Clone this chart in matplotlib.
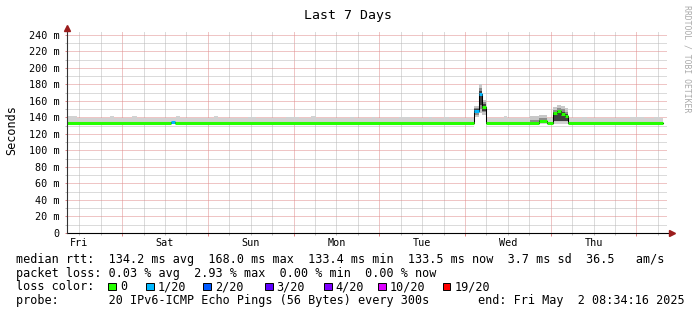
import matplotlib
matplotlib.use("Agg")
import matplotlib.pyplot as plt
from matplotlib.patches import Rectangle
import numpy as np

plt.rcParams['font.family'] = 'DejaVu Sans Mono'

# time axis: hours since Fri Apr 25 08:34:16 (graph covers 7 days)
start_offset = 8 + 34 / 60 + 16 / 3600

# median rtt segments (hours, ms) and loss index per segment
seg_start = [0.0, 29.2, 30.2, 114.0, 115.3, 116.2, 117.3, 132.1, 134.4, 136.1, 137.2, 138.4, 139.4, 140.3]
seg_end = [29.2, 30.2, 114.0, 115.3, 116.2, 117.3, 132.1, 134.4, 136.1, 137.2, 138.4, 139.4, 140.3, 167.0]
median_ms = [133.2, 134.7, 133.2, 147.7, 168.0, 152.5, 133.2, 136.0, 133.2, 145.5, 147.5, 144.0, 141.5, 133.2]
seg_loss = [0, 1, 0, 1, 1, 0, 0, 0, 0, 0, 0, 0, 0, 0]

# background smoke (light grey band above the median)
smoke_edges = [0, 2.8, 12.0, 13.2, 18.2, 19.6, 30.5, 31.6, 41.2, 42.3, 50.7, 53.0, 61.3, 65.0,
               68.3, 69.7, 79.2, 80.4, 85.4, 86.2, 93.0, 96.0, 101.4, 102.2, 105.6, 107.0,
               122.4, 123.2, 144.2, 145.6, 157.6, 161.6, 164.4, 166.0, 167.0]
smoke_top = [141.5, 139, 141.5, 139, 142, 139, 142, 139, 141.5, 139, 141, 139, 141, 139,
             142, 139, 140.5, 139, 140.5, 139, 141, 139, 141, 139, 140.5, 139,
             142, 139, 140.5, 139, 140.5, 139, 140.5, 139]
smoke_bottom = 132.0

# smoke around the disturbances (outer / mid / core bands)
ev_start = [114.0, 115.3, 116.2, 129.6, 132.1, 136.1, 137.2, 138.4, 139.4]
ev_end = [115.3, 116.2, 117.3, 132.1, 134.4, 137.2, 138.4, 139.4, 140.3]
ev_lo = [141, 145, 143, 134, 134, 134, 134, 134, 134]
ev_hi = [154, 180, 161, 142, 143, 152, 155, 154, 151]
ev_mid_lo = [143, 150, 146, 134, 134, 135, 135, 135, 135]
ev_mid_hi = [151, 176, 158, 137, 139, 149, 151, 150, 147]
ev_core_lo = [145, 155, 148, 134, 134, 135, 135, 135, 135]
ev_core_hi = [150, 172, 156, 134, 137, 146, 148, 146, 144]
white_from, white_to = 114.0, 117.3

day_names = ["Fri", "Sat", "Sun", "Mon", "Tue", "Wed", "Thu"]
ytick_vals = [0, 20, 40, 60, 80, 100, 120, 140, 160, 180, 200, 220, 240]
ytick_labels = ["0", "20 m", "40 m", "60 m", "80 m", "100 m", "120 m", "140 m",
                "160 m", "180 m", "200 m", "220 m", "240 m"]

loss_names = ["0", "1/20", "2/20", "3/20", "4/20", "10/20", "19/20"]
loss_colors = ["#26ff00", "#00b8ff", "#0059ff", "#5e00ff", "#7e00ff", "#dd00ff", "#ff0000"]
loss_box_x = [108.3, 146.0, 203.3, 265.0, 324.0, 378.3, 442.7]

W, H = 697, 315
fig = plt.figure(figsize=(W / 100, H / 100), dpi=100)
fig.patch.set_facecolor('white')
ax = fig.add_axes([67 / W, 1 - 233 / H, 600 / W, (233 - 30.6) / H])
ax.set_xlim(0, 168)
ax.set_ylim(0, 245)
for s in ax.spines.values():
    s.set_visible(False)

# grid
midnights = [24 * k - start_offset for k in range(1, 8)]
six_hours = [6 * k - start_offset for k in range(2, 30) if 0 < 6 * k - start_offset < 168]
ax.set_xticks(midnights)
ax.set_xticks(six_hours, minor=True)
ax.set_yticks(ytick_vals)
ax.set_yticklabels(ytick_labels)
ax.set_yticks(list(range(10, 241, 20)), minor=True)
ax.grid(which='major', color='#e08c8c', linestyle=(0, (1, 1)), linewidth=0.72, snap=True)
ax.grid(which='minor', color='#b8b8b8', linestyle=(0, (1, 1)), linewidth=0.72, snap=True)
ax.set_axisbelow(True)
ax.tick_params(axis='x', which='major', length=2.2, width=0.7, color='#e08080', labelbottom=False)
ax.tick_params(axis='x', which='minor', length=1.5, width=0.7, color='#bbbbbb')
ax.tick_params(axis='y', which='major', length=1.5, width=0.7, color='#e08080', pad=3.6, labelsize=7.3)
ax.tick_params(axis='y', which='minor', length=1.5, width=0.7, color='#bbbbbb')

# background smoke
sx = np.array(smoke_edges)
stop = np.array(smoke_top + [smoke_top[-1]])
ax.fill_between(sx, smoke_bottom, stop, step='post', color='#d2d2d2', lw=0, zorder=1)
ax.fill_between([white_from, white_to], 120, 141, color='white', lw=0, zorder=1.5)

# disturbance smoke
for i in range(len(ev_start)):
    xs = [ev_start[i], ev_end[i]]
    ax.fill_between(xs, ev_lo[i], ev_hi[i], color='#c8c8c8', lw=0, zorder=2)
    ax.fill_between(xs, ev_mid_lo[i], ev_mid_hi[i], color='#8c8c8c', lw=0, zorder=2.1)
    ax.fill_between(xs, ev_core_lo[i], ev_core_hi[i], color='#404040', lw=0, zorder=2.2)

# median line: black connector steps + loss coloured segments
step_x = seg_start + [seg_end[-1]]
step_y = median_ms + [median_ms[-1]]
ax.step(step_x, step_y, where='post', color='black', lw=0.75, zorder=2.5)
ax.hlines(median_ms, seg_start, seg_end, colors=[loss_colors[l] for l in seg_loss],
          linewidth=2.2, zorder=3, capstyle='butt')

# axis lines with arrows
ax.plot([0, 1.0083], [0, 0], transform=ax.transAxes, color='black', lw=0.8, clip_on=False, zorder=4)
ax.plot([0, 0], [0, 1.01], transform=ax.transAxes, color='#333333', lw=0.8, clip_on=False, zorder=4)
ax.plot([1.0083], [0], marker='>', markersize=4, color='#9b1c1c', transform=ax.transAxes, clip_on=False, zorder=5)
ax.plot([0], [1.015], marker='^', markersize=4, color='#9b1c1c', transform=ax.transAxes, clip_on=False, zorder=5)

# day labels at noon
for k, name in enumerate(day_names):
    ax.annotate(name, xy=(24 * k + 12 - start_offset, 0), xycoords=('data', 'axes fraction'),
                xytext=(0, -12.7 * 0.72), textcoords='offset points',
                ha='center', va='baseline', fontsize=7.3)

# titles and labels
fig.text(348 / W, 1 - 18.5 / H, "Last 7 Days", ha='center', va='baseline', fontsize=9.5)
fig.text(12 / W, 1 - 130 / H, "Seconds", rotation=90, ha='center', va='center', fontsize=8.5)
fig.text(686.5 / W, 1 - 59 / H, "RRDTOOL / TOBI OETIKER", rotation=270, ha='center', va='center',
         fontsize=5.9, color='#aaaaaa')

# legend
fig.text(16 / W, 1 - 262.7 / H,
         "median rtt:  134.2 ms avg  168.0 ms max  133.4 ms min  133.5 ms now  3.7 ms sd  36.5   am/s",
         va='baseline', fontsize=8.5)
fig.text(16 / W, 1 - 276.7 / H,
         "packet loss: 0.03 % avg  2.93 % max  0.00 % min  0.00 % now",
         va='baseline', fontsize=8.5)
fig.text(16 / W, 1 - 290.2 / H, "loss color:", va='baseline', fontsize=8.5)
for name, col, bx in zip(loss_names, loss_colors, loss_box_x):
    fig.patches.append(Rectangle((bx / W, 1 - 290 / H), 7.5 / W, 7.5 / H, transform=fig.transFigure,
                                 facecolor=col, edgecolor='black', lw=0.7))
    fig.text((bx + 11.5) / W, 1 - 290.2 / H, name, va='baseline', fontsize=8.5)
fig.text(16 / W, 1 - 304.3 / H,
         "probe:       20 IPv6-ICMP Echo Pings (56 Bytes) every 300s",
         va='baseline', fontsize=8.5)
fig.text(478 / W, 1 - 304.3 / H, "end: Fri May  2 08:34:16 2025", va='baseline', fontsize=8.5)

fig.savefig("out.png", dpi=100)
